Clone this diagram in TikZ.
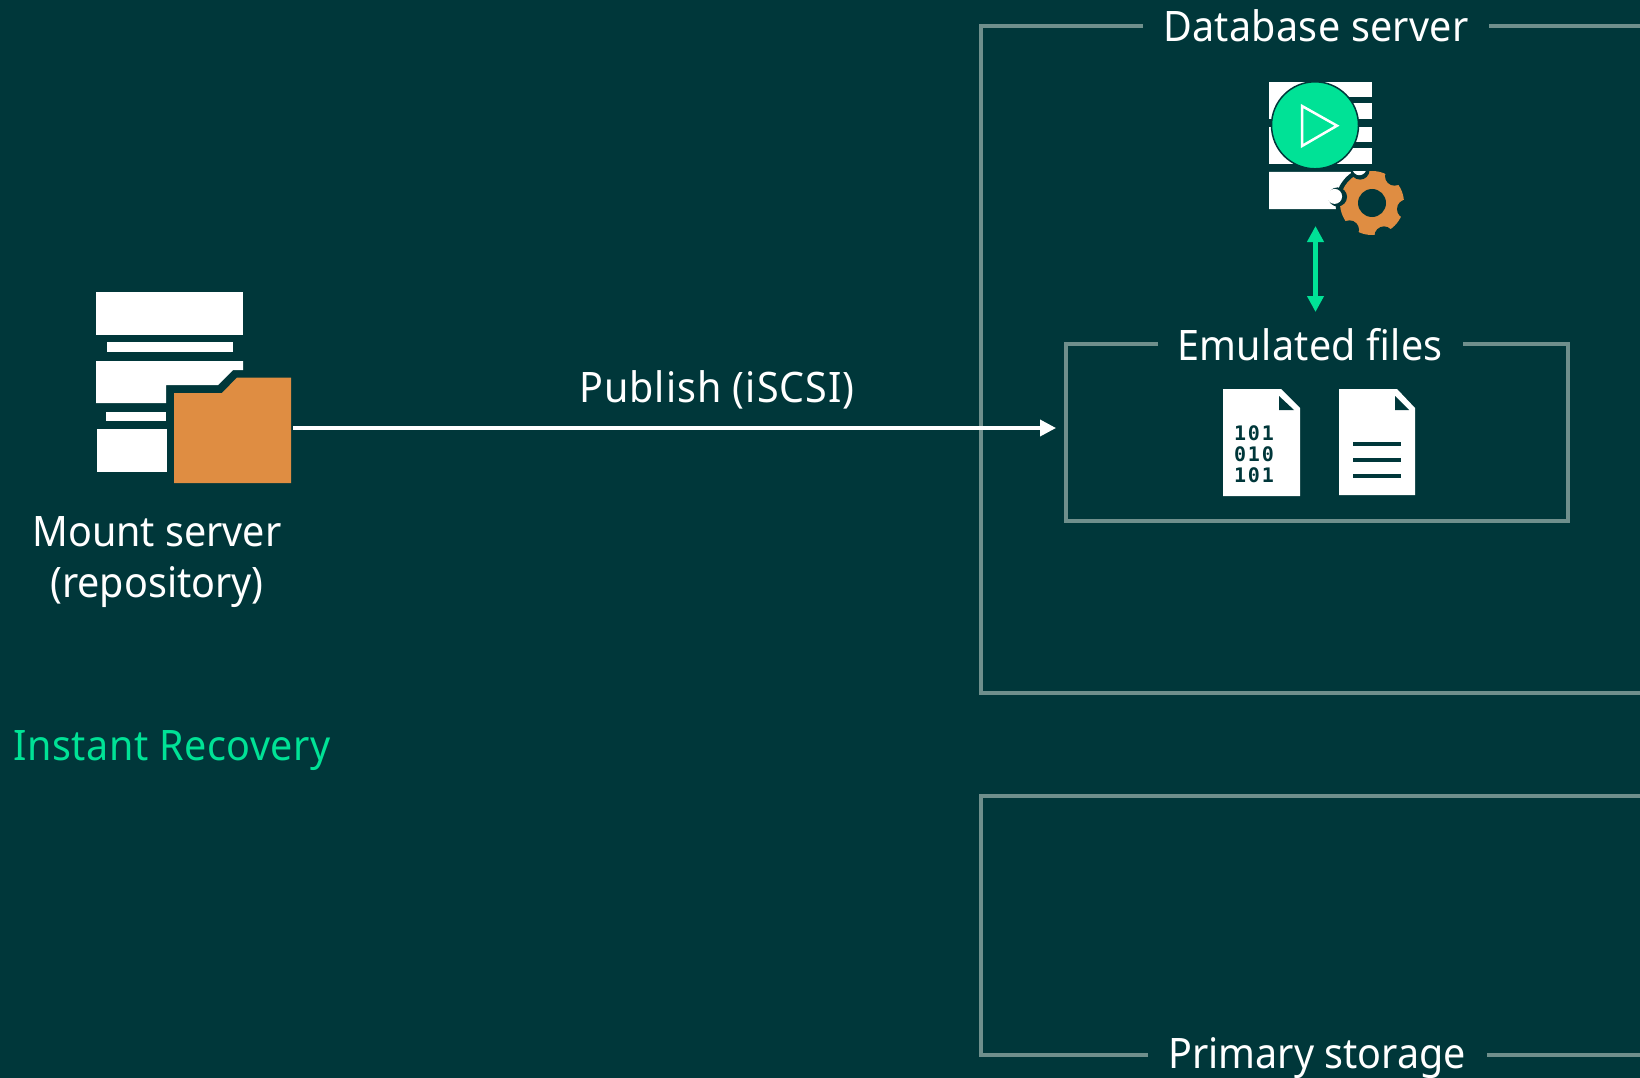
\documentclass[tikz,border=0pt]{standalone}
\usepackage{fontspec}
\setmainfont[FakeStretch=0.94]{Noto Sans}
\newfontfamily\binfont[LetterSpace=9]{DejaVu Sans Mono}
\usetikzlibrary{arrows.meta,positioning}
\definecolor{bgteal}{HTML}{00373A}
\definecolor{framegrey}{HTML}{6F8F8C}
\definecolor{veeamgreen}{HTML}{00E296}
\definecolor{folderorange}{HTML}{DF8D42}
\tikzset{
  label/.style={text=white,font=\fontsize{42}{51}\selectfont,inner sep=0pt,align=center},
  frame/.style={draw=framegrey,line width=4pt},
}
\begin{document}
\begin{tikzpicture}[x=1pt,y=-1pt]
          \fill[bgteal] (0,0) rectangle (1640,1078);
          \useasboundingbox (0,0) rectangle (1640,1078);

          % frames
          \node[label] (db)      at (1316,26)   {\addfontfeature{LetterSpace=0.7}Database server};
          \node[label] (files)   at (1310,345)  {\addfontfeature{LetterSpace=0.8}Emulated files};
          \node[label] (primary) at (1317,1058) {Primary storage};
          \node[label] (publish) at (717,390)   {\addfontfeature{LetterSpace=2.4}Publish (iSCSI)};
          \node[label] (mount)   at (157,562)   {Mount server\\(repository)};
          \node[label,text=veeamgreen] (recovery) at (172,751) {\addfontfeature{LetterSpace=1.3}Instant Recovery};

          \draw[frame] (1143,26) -| (981,692.5) -- (1640,692.5);
          \draw[frame] (1489,26) -- (1640,26);
          \draw[frame] (1640,796) -| (981,1055) -- (1148,1055);
          \draw[frame] (1487,1055) -- (1640,1055);
          \draw[frame] (1158,343.5) -| (1065.5,521) -| (1567.5,343.5) -- (1463,343.5);

          % mount server
          \fill[white] (96,292) rectangle (243,335);
          \fill[white] (107,342) rectangle (233,352);
          \fill[white] (96,361) -- (243,361) -- (243,370) -- (233,370) -- (218,385) -- (166,385) -- (166,403) -- (96,403) -- cycle;
          \fill[white] (106,412) rectangle (166,421);
          \fill[white] (97,429) rectangle (167,472);
          \fill[folderorange] (174,393) -- (222,393) -- (237,377.5) -- (291,377.5) -- (291,483) -- (174,483) -- cycle;
          \coordinate (folder) at (293,428);
          \coordinate (target) at (1056,428);

          % gear
          \fill[white] (1269,172) -- (1367,172) -- (1367,190) -- (1345,204) -- (1336,209) -- (1269,209) -- cycle;
          \begin{scope}[shift={(1372,203)}]
            \fill[bgteal] (0,0) circle (36.5);
            \fill[folderorange] (0,0) circle (32);
            \foreach \a in {10,70,...,310}
              \fill[bgteal] (\a:35) circle (9.5);
            \begin{scope}
              \clip (-45,-31) rectangle (-5,6);
              \fill[white] (250:37) circle (7);
              \fill[white] (190:38) circle (7.5);
            \end{scope}
            \fill[bgteal] (0,0) circle (14);
          \end{scope}

          % database server
          \fill[white] (1269,82) rectangle (1372,97);
          \fill[white] (1269,103) rectangle (1372,119);
          \fill[white] (1269,127) rectangle (1372,142);
          \fill[white] (1269,148) rectangle (1372,164);
          \fill[white] (1269,82) rectangle (1290,119);
          \fill[white] (1269,127) rectangle (1290,164);
          \node[circle,fill=veeamgreen,draw=bgteal,line width=1.5pt,minimum size=87pt,inner sep=0pt] (play) at (1315,125.3) {};
          \draw[white,line width=2.5pt,line join=miter] (1302,106) -- (1337,125.7) -- (1302,146) -- cycle;
          \coordinate (dbtop) at (1315.5,226);
          \coordinate (dbbot) at (1315.5,312);

          % files
          \fill[white] (1223,389) -- (1281,389) -- (1300,408) -- (1300,496) -- (1223,496) -- cycle;
          \fill[bgteal] (1279,396) -- (1279,410) -- (1294,410) -- cycle;
          \node[text=bgteal,font=\binfont\bfseries\fontsize{20}{21}\selectfont,align=left,inner sep=0pt] (binary) at (1254,454.5) {101\\010\\101};
          \fill[white] (1339,389) -- (1397,389) -- (1415,408) -- (1415,495) -- (1339,495) -- cycle;
          \fill[bgteal] (1395,396) -- (1395,410) -- (1409,410) -- cycle;
          \foreach \y in {444,460,476}
            \draw[bgteal,line width=3.4pt] (1353,\y) -- (1401,\y);

          \path[-{Triangle[length=16pt,width=16pt]},white,line width=3.6pt]
                    (folder) edge (target);
          \path[{Triangle[length=16pt,width=16pt]}-{Triangle[length=16pt,width=16pt]},veeamgreen,line width=4.2pt]
                    (dbtop) edge (dbbot);
\end{tikzpicture}
\end{document}
